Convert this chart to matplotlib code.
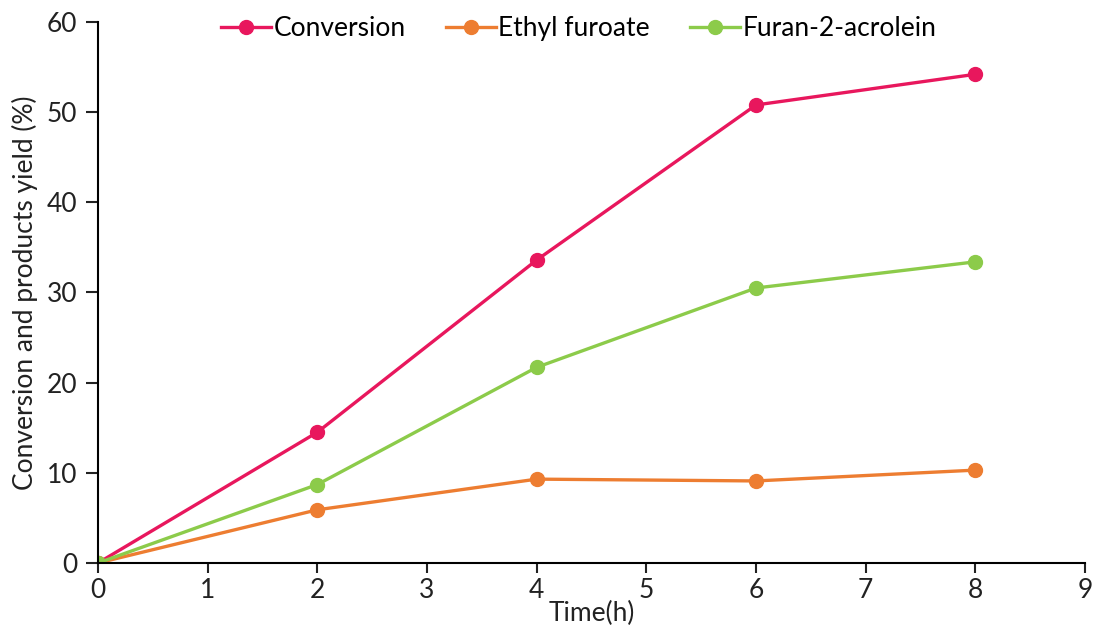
import matplotlib.pyplot as plt

plt.rcParams['font.family'] = ['Lato', 'DejaVu Sans']

time_h = [0, 2, 4, 6, 8]
conversion = [0, 14.5, 33.6, 50.8, 54.2]
ethyl_furoate = [0, 5.9, 9.3, 9.1, 10.3]
furan_acrolein = [0, 8.7, 21.7, 30.5, 33.4]

fig = plt.figure(figsize=(10.96, 6.36), dpi=100)
ax = fig.add_axes([0.0894, 0.1148, 0.9006, 0.8506])

ax.plot(time_h, conversion, '-o', color='#E8175D', lw=2.4, ms=10, label='Conversion')
ax.plot(time_h, ethyl_furoate, '-o', color='#ED7D31', lw=2.4, ms=10, label='Ethyl furoate')
ax.plot(time_h, furan_acrolein, '-o', color='#8CCB4A', lw=2.4, ms=10, label='Furan-2-acrolein')

ax.set_xlim(0, 9)
ax.set_ylim(0, 60)
ax.set_xticks(range(0, 10))
ax.set_yticks(range(0, 61, 10))
ax.spines['top'].set_visible(False)
ax.spines['right'].set_visible(False)
for s in ['left', 'bottom']:
    ax.spines[s].set_linewidth(1.5)
ax.tick_params(direction='out', length=7, width=1.5, labelsize=19, pad=4, colors='#222222')
ax.tick_params(axis='y', length=9, pad=6)
ax.set_xlabel('Time(h)', fontsize=19, labelpad=-2, color='#222222')
ax.set_ylabel('Conversion and products yield (%)', fontsize=19, labelpad=6, color='#222222')

ax.legend(loc='upper center', bbox_to_anchor=(0.487, 1.055), ncol=3, frameon=False,
          fontsize=19, handlelength=1.9, handletextpad=0.1, columnspacing=1.5)

fig.savefig('out.png', dpi=100)
